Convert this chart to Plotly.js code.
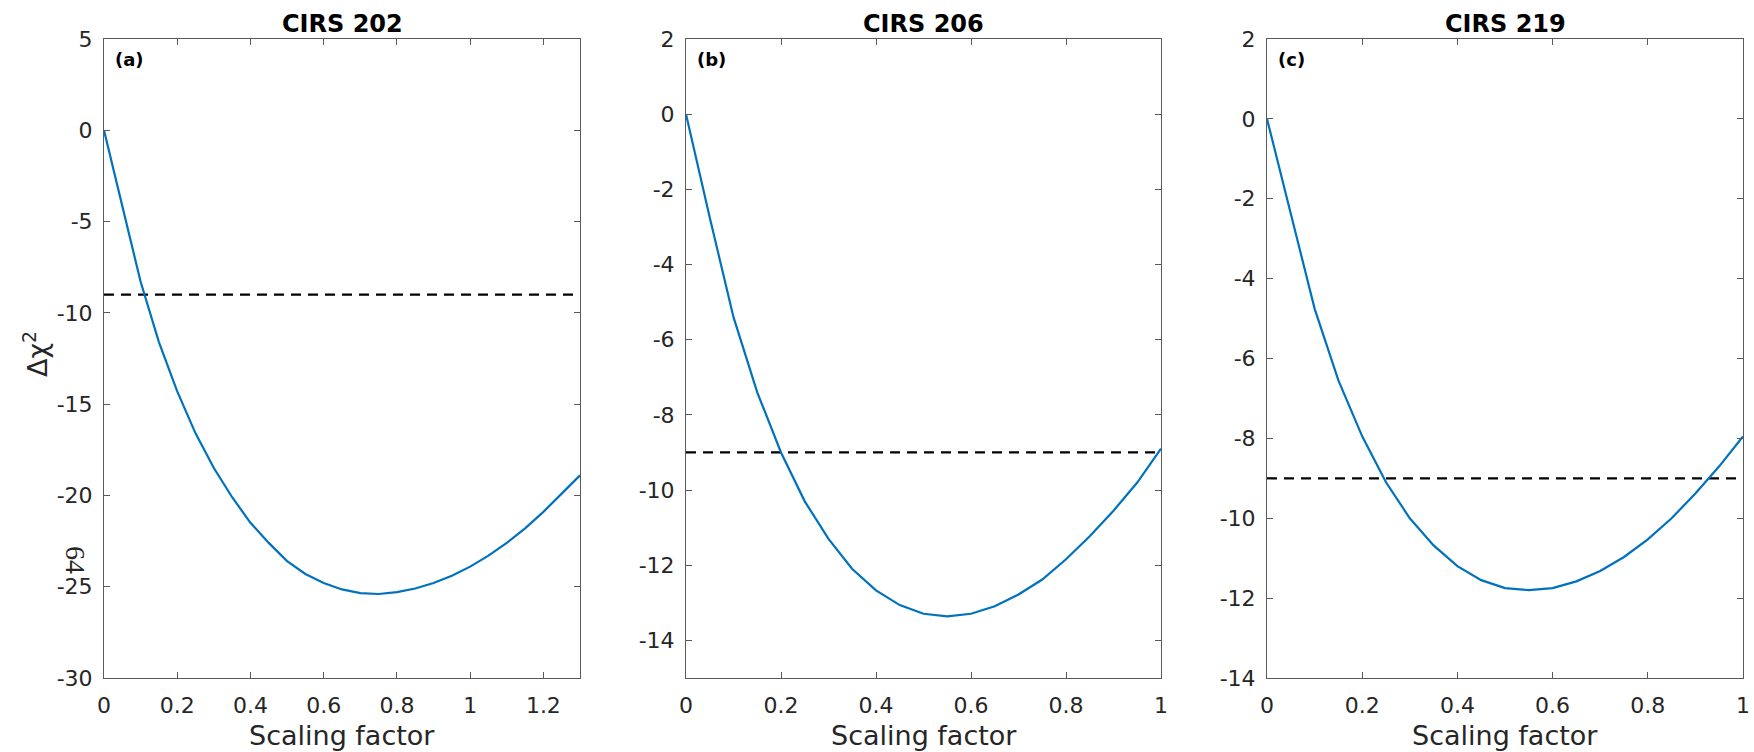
<!DOCTYPE html>
<html>
<head>
<meta charset="utf-8">
<script src="https://cdn.plot.ly/plotly-3.0.1.min.js"></script>
<style>html,body{margin:0;padding:0;background:#fff;}#chart{width:1754px;height:752px;}</style>
</head>
<body>
<div id="chart"></div>
<script>
// ---- data ----
const panelTitles = ["CIRS 202", "CIRS 206", "CIRS 219"];
const panelTags = ["(a)", "(b)", "(c)"];

const scale202 = [0,0.05,0.1,0.15,0.2,0.25,0.3,0.35,0.4,0.45,0.5,0.55,0.6,0.65,0.7,0.75,0.8,0.85,0.9,0.95,1.0,1.05,1.1,1.15,1.2,1.25,1.3];
const dchi202  = [0,-4.1,-8.3,-11.6,-14.3,-16.6,-18.5,-20.1,-21.5,-22.6,-23.6,-24.3,-24.8,-25.15,-25.35,-25.4,-25.3,-25.1,-24.8,-24.4,-23.9,-23.3,-22.6,-21.8,-20.9,-19.9,-18.9];

const scale206 = [0,0.05,0.1,0.15,0.2,0.25,0.3,0.35,0.4,0.45,0.5,0.55,0.6,0.65,0.7,0.75,0.8,0.85,0.9,0.95,1.0];
const dchi206  = [0,-2.75,-5.4,-7.4,-9.0,-10.3,-11.3,-12.1,-12.67,-13.06,-13.29,-13.36,-13.29,-13.09,-12.78,-12.38,-11.84,-11.23,-10.55,-9.8,-8.9];

const scale219 = [0,0.05,0.1,0.15,0.2,0.25,0.3,0.35,0.4,0.45,0.5,0.55,0.6,0.65,0.7,0.75,0.8,0.85,0.9,0.95,1.0];
const dchi219  = [0,-2.35,-4.75,-6.55,-7.95,-9.1,-10.0,-10.68,-11.2,-11.55,-11.75,-11.8,-11.75,-11.58,-11.32,-10.97,-10.53,-10.0,-9.38,-8.7,-7.95];

const thresholdLevel = -9;
const xRanges = [[0, 1.3], [0, 1], [0, 1]];
const yRanges = [[-30, 5], [-15, 2], [-14, 2]];

const xTickVals = [[0,0.2,0.4,0.6,0.8,1,1.2],[0,0.2,0.4,0.6,0.8,1],[0,0.2,0.4,0.6,0.8,1]];
const xTickText = [["0","0.2","0.4","0.6","0.8","1","1.2"],["0","0.2","0.4","0.6","0.8","1"],["0","0.2","0.4","0.6","0.8","1"]];
const yTickVals = [[5,0,-5,-10,-15,-20,-25,-30],[2,0,-2,-4,-6,-8,-10,-12,-14],[2,0,-2,-4,-6,-8,-10,-12,-14]];
const yTickText = [["5","0","-5","-10","-15","-20","-25","-30"],["2","0","-2","-4","-6","-8","-10","-12","-14"],["2","0","-2","-4","-6","-8","-10","-12","-14"]];

const xLabel = "Scaling factor";
const yLabel = "Δχ<sup>2</sup>";
const pageNumber = "64";

// ---- build ----
const W = 1754, H = 752;
const FONT = "DejaVu Sans";
const TXT = "#262626";
const AX = "#5a5a5a";
const BLUE = "#0072BD";

const domainsX = [[104/W, 580/W], [686/W, 1161/W], [1267/W, 1743/W]];
const domainY = [1 - 678/H, 1 - 39/H];

const xs = [scale202, scale206, scale219];
const ys = [dchi202, dchi206, dchi219];

const traces = [];
const layout = {
  width: W, height: H,
  margin: {l: 0, r: 0, t: 0, b: 0},
  paper_bgcolor: "#fff", plot_bgcolor: "#fff",
  showlegend: false,
  font: {family: FONT, color: TXT},
  annotations: []
};

for (let i = 0; i < 3; i++) {
  const sfx = i === 0 ? "" : String(i + 1);
  const xa = "x" + sfx, ya = "y" + sfx;
  traces.push({
    x: [xRanges[i][0], xRanges[i][1]], y: [thresholdLevel, thresholdLevel],
    xaxis: xa, yaxis: ya, mode: "lines", hoverinfo: "skip",
    line: {color: "#000", width: 2.2, dash: "10px,7px"}
  });
  traces.push({
    x: xs[i], y: ys[i], xaxis: xa, yaxis: ya, mode: "lines",
    line: {color: BLUE, width: 2.2}
  });
  const common = {
    showline: true, mirror: "ticks", linecolor: AX, linewidth: 1,
    ticks: "inside", ticklen: 6, tickwidth: 1, tickcolor: AX,
    showgrid: false, zeroline: false, tickmode: "array",
    tickfont: {family: FONT, size: 22, color: TXT}
  };
  layout["xaxis" + sfx] = Object.assign({}, common, {
    domain: domainsX[i], range: xRanges[i], anchor: ya,
    tickvals: xTickVals[i], ticktext: xTickText[i], ticklabelstandoff: 8
  });
  layout["yaxis" + sfx] = Object.assign({}, common, {
    domain: domainY, range: yRanges[i], anchor: xa,
    tickvals: yTickVals[i], ticktext: yTickText[i], ticklabelstandoff: 6
  });
  // panel title
  layout.annotations.push({
    text: panelTitles[i], xref: xa + " domain", yref: "paper",
    x: 0.5, y: 1 - 24.5/H, xanchor: "center", yanchor: "middle", showarrow: false,
    font: {family: FONT, size: 24, color: "#000", weight: "bold"}
  });
  // panel tag
  layout.annotations.push({
    text: panelTags[i], xref: xa + " domain", yref: ya + " domain",
    x: 0, y: 1, xshift: 9, yshift: -8, xanchor: "left", yanchor: "top", showarrow: false,
    font: {family: FONT, size: 18, color: "#000", weight: "bold"}
  });
  // x label
  layout.annotations.push({
    text: xLabel, xref: xa + " domain", yref: "paper",
    x: 0.5, y: 1 - 735/H, xanchor: "center", yanchor: "middle", showarrow: false,
    font: {family: FONT, size: 27, color: TXT}
  });
}

// y label
layout.annotations.push({
  text: yLabel, xref: "paper", yref: "paper",
  x: 35/W, y: 1 - 354/H, xanchor: "center", yanchor: "middle",
  textangle: -90, showarrow: false,
  font: {family: FONT, size: 27, color: TXT}
});
// stray page number
layout.annotations.push({
  text: pageNumber, xref: "paper", yref: "paper",
  x: 76/W, y: 1 - 560/H, xanchor: "center", yanchor: "middle",
  textangle: 90, showarrow: false,
  font: {family: "Liberation Serif", size: 28, color: TXT}
});

Plotly.newPlot("chart", traces, layout, {staticPlot: true, displayModeBar: false});
</script>
</body>
</html>
